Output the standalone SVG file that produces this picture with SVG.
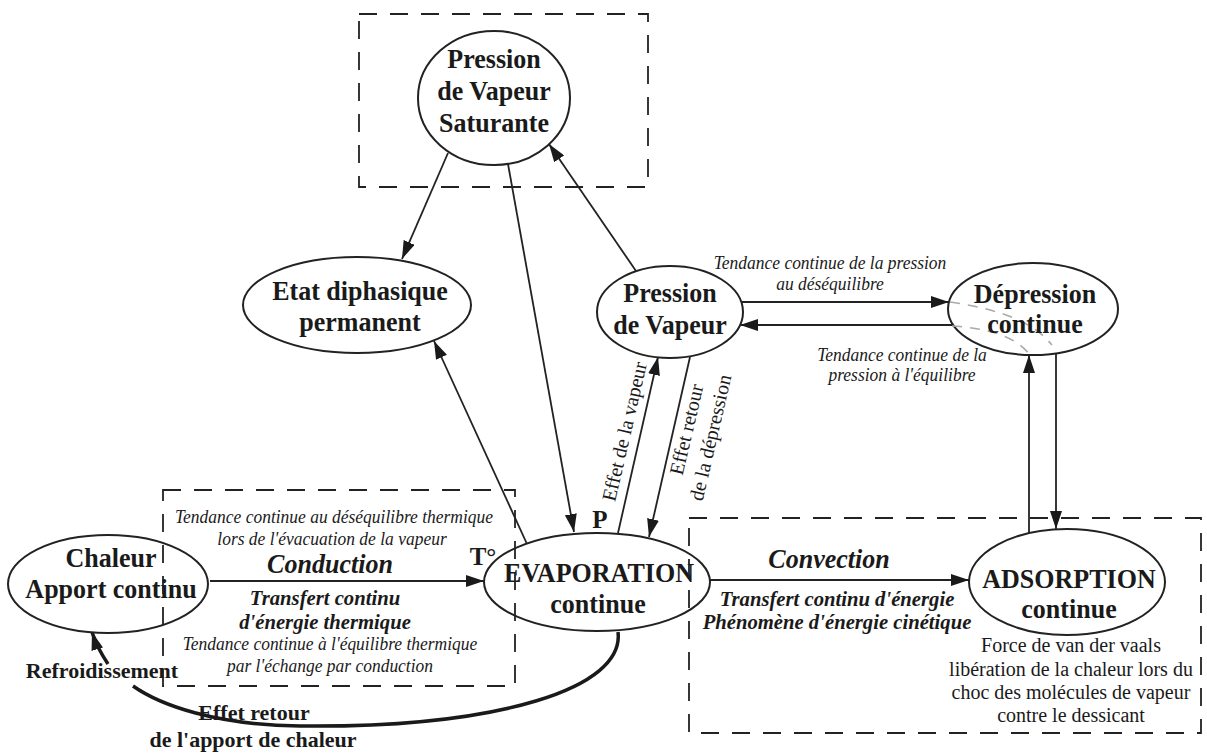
<svg xmlns="http://www.w3.org/2000/svg" width="1207" height="754" viewBox="0 0 1207 754">
<style>
.t{font-family:"Liberation Serif","Times New Roman",serif;fill:#1a1a1a;text-anchor:middle}
.n{font-weight:bold;font-size:28px}
.it{font-style:italic;font-size:19px}
.bi{font-weight:bold;font-style:italic;font-size:22px}
.big{font-weight:bold;font-style:italic;font-size:28px}
.r{font-size:20px}
.b22{font-weight:bold;font-size:22px}
.b24{font-weight:bold;font-size:25px}
.node{fill:#fff;stroke:#222;stroke-width:2}
.c{fill:none;stroke:#222;stroke-width:1.8;marker-end:url(#ah)}
.box{fill:none;stroke:#222;stroke-width:1.8;stroke-dasharray:18 13}
.ghost{fill:none;stroke:#aaa;stroke-width:1.6;stroke-dasharray:10 8}
</style>
<defs>
<marker id="ah" markerUnits="userSpaceOnUse" markerWidth="18" markerHeight="12" refX="18" refY="6" orient="auto">
<path d="M0,0 L18,6 L0,12 z" fill="#1a1a1a"/>
</marker>
</defs>
<rect width="1207" height="754" fill="#fff"/>
<g id="connectors">
<path class="c" d="M448,153 L402,259"/>
<path class="c" d="M508,164 L574,532"/>
<path class="c" d="M636,271 L549,144"/>
<path class="c" d="M527,544 L434,341"/>
<path class="c" d="M618,533 L658,357"/>
<path class="c" d="M690,357 L649,537"/>
<path class="c" d="M741,302 L949,302"/>
<path class="c" d="M953,325 L740,325"/>
<path class="c" d="M1029,533 L1029,355"/>
<path class="c" d="M1056,353 L1056,529"/>
<path class="c" d="M210,581 L484,581"/>
<path class="c" d="M710,580 L969,580"/>
<path fill="none" stroke="#1a1a1a" stroke-width="3.5" d="M618,632 C625,688 500,728 300,726 C215,725 160,705 133,686"/>
<path fill="none" stroke="#1a1a1a" stroke-width="3.5" marker-end="url(#ah)" d="M108,664 C102,655 96,645 92,632"/>
</g>
<g id="n-pvs">
<ellipse class="node" cx="494" cy="98" rx="76" ry="67"/>
<text class="t n" transform="matrix(.93 0 0 1 494 0)" x="0" y="68">Pression</text>
<text class="t n" transform="matrix(.93 0 0 1 494 0)" x="0" y="100">de Vapeur</text>
<text class="t n" transform="matrix(.93 0 0 1 494 0)" x="0" y="132">Saturante</text>
</g>
<g id="n-etat">
<ellipse class="node" cx="357" cy="305" rx="114" ry="48"/>
<text class="t n" transform="matrix(.93 0 0 1 360 0)" x="0" y="300">Etat diphasique</text>
<text class="t n" transform="matrix(.93 0 0 1 360 0)" x="0" y="331">permanent</text>
</g>
<g id="n-pv">
<ellipse class="node" cx="670" cy="312" rx="73" ry="46"/>
<text class="t n" transform="matrix(.93 0 0 1 670 0)" x="0" y="302">Pression</text>
<text class="t n" transform="matrix(.93 0 0 1 670 0)" x="0" y="334">de Vapeur</text>
</g>
<g id="n-dep">
<ellipse class="node" cx="1033" cy="309" rx="85" ry="46"/>
<path class="ghost" d="M950,302 C990,308 1030,318 1052,345"/>
<path class="ghost" d="M952,326 C985,328 1015,335 1030,355"/>
<text class="t n" transform="matrix(.93 0 0 1 1035 0)" x="0" y="303">Dépression</text>
<text class="t n" transform="matrix(.93 0 0 1 1035 0)" x="0" y="333">continue</text>
</g>
<g id="n-chaleur">
<ellipse class="node" cx="108" cy="584" rx="100" ry="49"/>
<text class="t n" transform="matrix(.93 0 0 1 111 0)" x="0" y="567">Chaleur</text>
<text class="t n" transform="matrix(.93 0 0 1 111 0)" x="0" y="598">Apport continu</text>
</g>
<g id="n-evap">
<ellipse class="node" cx="597" cy="582" rx="113" ry="49"/>
<text class="t n" transform="matrix(.93 0 0 1 599 0)" x="0" y="582">EVAPORATION</text>
<text class="t n" transform="matrix(.93 0 0 1 598 0)" x="0" y="613">continue</text>
</g>
<g id="n-ads">
<ellipse class="node" cx="1067" cy="582" rx="98" ry="53"/>
<text class="t n" transform="matrix(.93 0 0 1 1069 0)" x="0" y="588">ADSORPTION</text>
<text class="t n" transform="matrix(.93 0 0 1 1069 0)" x="0" y="618">continue</text>
</g>
<g id="labels">
<text class="t it" transform="matrix(.92 0 0 1 830 0)" x="0" y="269">Tendance continue de la pression</text>
<text class="t it" transform="matrix(.92 0 0 1 830 0)" x="0" y="290">au déséquilibre</text>
<text class="t it" transform="matrix(.92 0 0 1 902 0)" x="0" y="361">Tendance continue de la</text>
<text class="t it" transform="matrix(.92 0 0 1 902 0)" x="0" y="381">pression à l'équilibre</text>
<text class="t r" transform="translate(631,433) rotate(-77)">Effet de la vapeur</text>
<text class="t r" transform="translate(693,431) rotate(-77)">Effet retour</text>
<text class="t r" transform="translate(717,439) rotate(-77)">de la dépression</text>
<text class="t b24" x="600" y="528">P</text>
<text class="t b24" x="483" y="565">T°</text>
<text class="t it" transform="matrix(.92 0 0 1 334 0)" x="0" y="523">Tendance continue au déséquilibre thermique</text>
<text class="t it" transform="matrix(.92 0 0 1 332 0)" x="0" y="545">lors de l'évacuation de la vapeur</text>
<text class="t big" transform="matrix(.93 0 0 1 330 0)" x="0" y="573">Conduction</text>
<text class="t bi" transform="matrix(.94 0 0 1 325 0)" x="0" y="605">Transfert continu</text>
<text class="t bi" transform="matrix(.94 0 0 1 325 0)" x="0" y="629">d'énergie thermique</text>
<text class="t it" transform="matrix(.92 0 0 1 330 0)" x="0" y="650">Tendance continue à l'équilibre thermique</text>
<text class="t it" transform="matrix(.92 0 0 1 330 0)" x="0" y="672">par l'échange par conduction</text>
<text class="t big" transform="matrix(.93 0 0 1 829 0)" x="0" y="568">Convection</text>
<text class="t bi" transform="matrix(.94 0 0 1 837 0)" x="0" y="606">Transfert continu d'énergie</text>
<text class="t bi" transform="matrix(.94 0 0 1 837 0)" x="0" y="629">Phénomène d'énergie cinétique</text>
<text class="t r" x="1071" y="652">Force de van der vaals</text>
<text class="t r" x="1071" y="676">libération de la chaleur lors du</text>
<text class="t r" x="1071" y="699">choc des molécules de vapeur</text>
<text class="t r" x="1071" y="722">contre le dessicant</text>
<text class="t b22" x="102" y="678">Refroidissement</text>
<text class="t b22" x="254" y="720">Effet retour</text>
<text class="t b22" x="253" y="747">de l'apport de chaleur</text>
</g>
<g id="boxes">
<rect class="box" x="359" y="14" width="289" height="173"/>
<rect class="box" x="163" y="490" width="352" height="196"/>
<rect class="box" x="689" y="518" width="512" height="215"/>
</g>
</svg>
